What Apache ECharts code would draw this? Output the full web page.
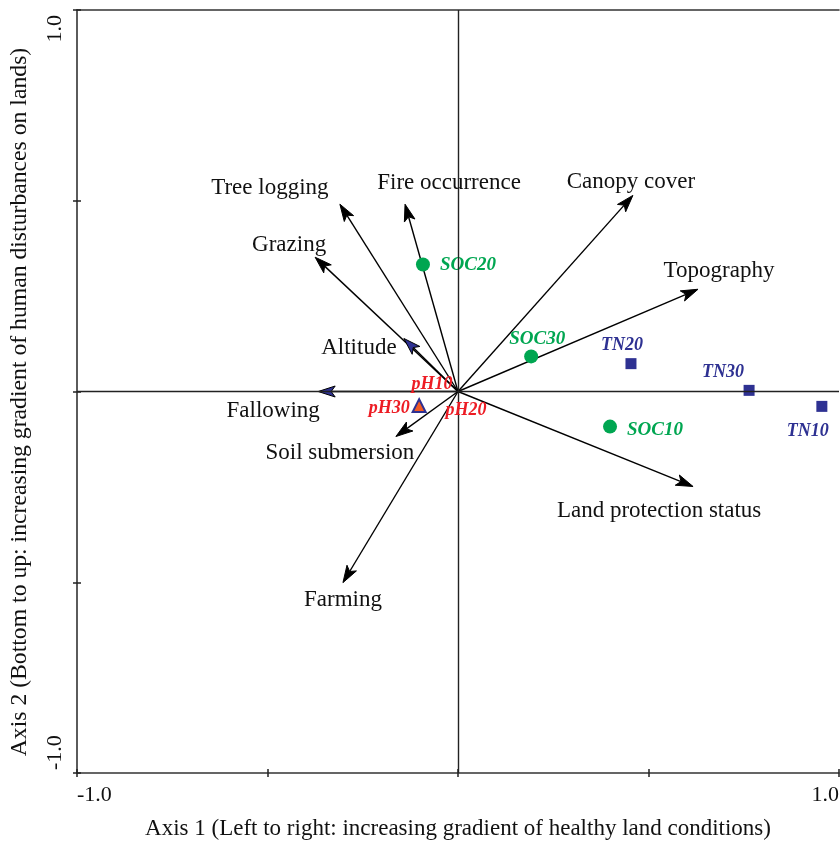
<!DOCTYPE html>
<html>
<head>
<meta charset="utf-8">
<script src="https://cdn.jsdelivr.net/npm/echarts@6/dist/echarts.min.js"></script>
<style>
  html, body { margin: 0; padding: 0; background: #fff; }
  #chart { width: 840px; height: 843px; }
</style>
</head>
<body>
<div id="chart"></div>
<script>
// Environmental vectors (biplot arrows from the origin)
const arrowNames = ['Tree logging', 'Fire occurrence', 'Canopy cover', 'Topography', 'Grazing',
  'Altitude', 'Fallowing', 'Soil submersion', 'Farming', 'Land protection status'];
const arrowX = [-0.310, -0.139, 0.459, 0.630, -0.375, -0.142, -0.367, -0.163, -0.302, 0.617];
const arrowY = [0.491, 0.491, 0.514, 0.268, 0.352, 0.139, 0.000, -0.118, -0.501, -0.249];

// Soil variables
const socNames = ['SOC10', 'SOC20', 'SOC30'];
const socX = [0.399, -0.092, 0.192];
const socY = [-0.092, 0.333, 0.092];

const tnNames = ['TN10', 'TN20', 'TN30'];
const tnX = [0.955, 0.454, 0.764];
const tnY = [-0.039, 0.073, 0.003];

const phNames = ['pH10', 'pH20', 'pH30'];
const phX = [0.000, 0.000, -0.102];
const phY = [0.000, 0.000, -0.037];

const axisTicks = [-1.0, -0.5, 0, 0.5, 1.0];
const tickLabels = ['-1.0', '1.0'];

const xTitle = 'Axis 1 (Left to right: increasing gradient of healthy land conditions)';
const yTitle = 'Axis 2 (Bottom to up: increasing gradient of human disturbances on lands)';

// ---- styling ----
const FONT = '"Liberation Serif", "Times New Roman", serif';
const NAVY = '#2e3192';
const GREEN = '#00a651';
const RED = '#ed1c24';
const ORANGE = '#f15a24';
const blueHeads = new Set(['Altitude', 'Fallowing']);
// label centre relative to the arrow tip, in pixels
const arrowLabelShift = {
  'Tree logging': [-70, -16], 'Fire occurrence': [44, -21], 'Canopy cover': [-2, -13],
  'Topography': [21, -18], 'Grazing': [-26, -12], 'Altitude': [-45, 9],
  'Fallowing': [-45, 19], 'Soil submersion': [-56, 16], 'Farming': [0, 17],
  'Land protection status': [-34, 24]
};
// label centre relative to the marker, in pixels
const pointLabelShift = {
  SOC10: [45, 3], SOC20: [45, 1], SOC30: [6, -17],
  TN10: [-14, 25], TN20: [-9, -18], TN30: [-26, -18],
  pH10: [-26, -7], pH20: [8, 19], pH30: [-30, 3]
};

function pts(names, xs, ys) {
  return names.map((n, i) => ({
    name: n, value: [xs[i], ys[i]],
    label: { offset: pointLabelShift[n] }
  }));
}

const chart = echarts.init(document.getElementById('chart'), null, { renderer: 'canvas' });

const axisCommon = {
  type: 'value', min: -1, max: 1, interval: 0.5,
  splitLine: { show: false },
  axisLabel: { show: false }
};

function renderArrow(params, api) {
  const name = arrowNames[params.dataIndex];
  const o = api.coord([0, 0]);
  const t = api.coord([api.value(0), api.value(1)]);
  const dx = t[0] - o[0], dy = t[1] - o[1];
  const len = Math.sqrt(dx * dx + dy * dy);
  const ux = dx / len, uy = dy / len;
  const px = -uy, py = ux;
  const L = 17, W = 5.5, N = 13;
  const bx = t[0] - ux * L, by = t[1] - uy * L;
  const nx = t[0] - ux * N, ny = t[1] - uy * N;
  const sh = arrowLabelShift[name];
  return {
    type: 'group',
    children: [
      { type: 'line', shape: { x1: o[0], y1: o[1], x2: nx, y2: ny },
        style: { stroke: '#000', lineWidth: 1.4 } },
      { type: 'polygon',
        shape: { points: [[t[0], t[1]], [bx + px * W, by + py * W], [nx, ny], [bx - px * W, by - py * W]] },
        style: { fill: blueHeads.has(name) ? NAVY : '#000', stroke: '#000', lineWidth: 1 } },
      { type: 'text', x: t[0] + sh[0], y: t[1] + sh[1],
        style: { text: name, font: '23px ' + FONT, fill: '#111', align: 'center', verticalAlign: 'middle' } }
    ]
  };
}

const labelStyle = (color, size) => ({
  show: true, position: 'inside', formatter: '{b}', color: color,
  fontFamily: FONT, fontSize: size, fontWeight: 'bold', fontStyle: 'italic'
});

const option = {
  animation: false,
  backgroundColor: '#fff',
  grid: { left: 77, right: 1, top: 10, bottom: 70, containLabel: false },
  xAxis: [
    Object.assign({}, axisCommon, { position: 'bottom',
      axisLine: { show: true, onZero: false, lineStyle: { color: '#333', width: 1.6 } },
      axisTick: { show: true, inside: false, length: 4, lineStyle: { color: '#222', width: 1.5 } } }),
    Object.assign({}, axisCommon, { position: 'bottom',
      axisLine: { show: false, onZero: false },
      axisTick: { show: true, inside: true, length: 4, lineStyle: { color: '#222', width: 1.5 } } }),
    Object.assign({}, axisCommon, { position: 'top',
      axisLine: { show: true, onZero: false, lineStyle: { color: '#333', width: 1.6 } },
      axisTick: { show: false } })
  ],
  yAxis: [
    Object.assign({}, axisCommon, { position: 'left',
      axisLine: { show: true, onZero: false, lineStyle: { color: '#333', width: 1.6 } },
      axisTick: { show: true, inside: false, length: 4, lineStyle: { color: '#222', width: 1.5 } } }),
    Object.assign({}, axisCommon, { position: 'left',
      axisLine: { show: false, onZero: false },
      axisTick: { show: true, inside: true, length: 4, lineStyle: { color: '#222', width: 1.5 } } })
  ],
  series: [
    {
      type: 'scatter', xAxisIndex: 0, yAxisIndex: 0, data: [], silent: true,
      markLine: {
        silent: true, symbol: ['none', 'none'],
        label: { show: false },
        lineStyle: { color: '#222', width: 1.4, type: 'solid' },
        data: [{ xAxis: 0 }, { yAxis: 0 }]
      }
    },
    {
      type: 'custom', xAxisIndex: 0, yAxisIndex: 0, clip: false,
      renderItem: renderArrow,
      data: arrowX.map((x, i) => [x, arrowY[i]]),
      z: 3
    },
    {
      type: 'scatter', xAxisIndex: 0, yAxisIndex: 0, z: 4,
      symbol: 'circle', symbolSize: 14,
      itemStyle: { color: GREEN, opacity: 1 },
      label: labelStyle(GREEN, 19),
      data: pts(socNames, socX, socY)
    },
    {
      type: 'scatter', xAxisIndex: 0, yAxisIndex: 0, z: 4,
      symbol: 'rect', symbolSize: 11,
      itemStyle: { color: NAVY, opacity: 1 },
      label: labelStyle(NAVY, 18),
      data: pts(tnNames, tnX, tnY)
    },
    {
      type: 'scatter', xAxisIndex: 0, yAxisIndex: 0, z: 5,
      symbol: 'triangle', symbolSize: 13,
      itemStyle: { color: ORANGE, borderColor: NAVY, borderWidth: 2, opacity: 1 },
      label: labelStyle(RED, 18),
      data: pts(phNames, phX, phY).map(d => (d.name === 'pH30' ? d : Object.assign(d, { symbolSize: 0 })))
    }
  ]
};

chart.setOption(option);

// Tick labels at the axis ends and the axis titles
const pMin = chart.convertToPixel({ xAxisIndex: 0, yAxisIndex: 0 }, [axisTicks[0], axisTicks[0]]);
const pMax = chart.convertToPixel({ xAxisIndex: 0, yAxisIndex: 0 }, [axisTicks[4], axisTicks[4]]);
const pMid = chart.convertToPixel({ xAxisIndex: 0, yAxisIndex: 0 }, [axisTicks[2], axisTicks[2]]);
const tickFont = '22px ' + FONT;
chart.setOption({
  graphic: [
    { type: 'text', x: pMin[0], y: pMin[1] + 22,
      style: { text: tickLabels[0], font: tickFont, fill: '#111', align: 'left', verticalAlign: 'middle' } },
    { type: 'text', x: pMax[0], y: pMin[1] + 22,
      style: { text: tickLabels[1], font: tickFont, fill: '#111', align: 'right', verticalAlign: 'middle' } },
    { type: 'text', x: 55, y: pMin[1] - 3, rotation: Math.PI / 2,
      style: { text: tickLabels[0], font: tickFont, fill: '#111', align: 'left', verticalAlign: 'middle' } },
    { type: 'text', x: 55, y: pMax[1] + 5, rotation: Math.PI / 2,
      style: { text: tickLabels[1], font: tickFont, fill: '#111', align: 'right', verticalAlign: 'middle' } },
    { type: 'text', x: pMid[0], y: 829,
      style: { text: xTitle, font: '23px ' + FONT, fill: '#111', align: 'center', verticalAlign: 'middle' } },
    { type: 'text', x: 20, y: 402, rotation: Math.PI / 2,
      style: { text: yTitle, font: '23.7px ' + FONT, fill: '#111', align: 'center', verticalAlign: 'middle' } }
  ]
});
</script>
</body>
</html>
